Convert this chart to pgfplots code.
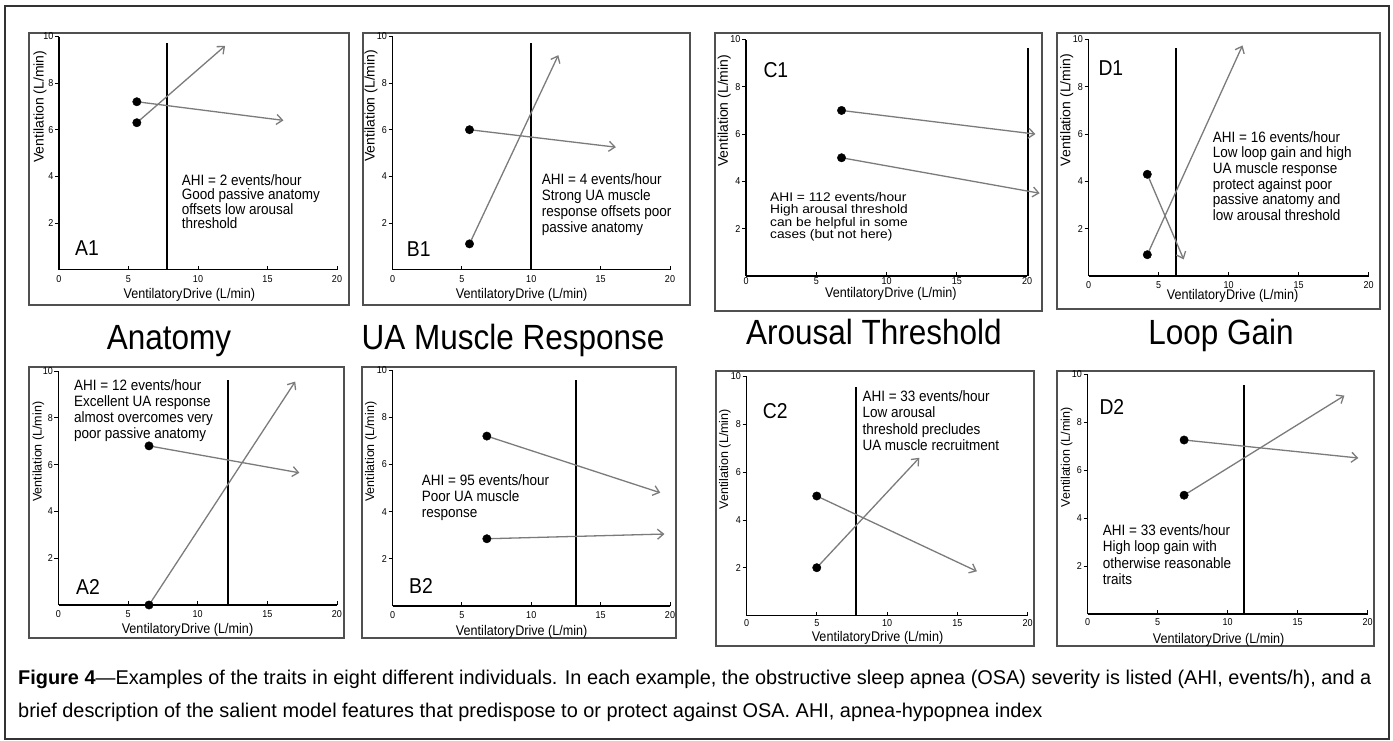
\documentclass[border=0pt]{standalone}
\usepackage{fontspec}
\setmainfont{Liberation Sans}
% slightly condensed faces for the panel text
\newfontfamily\nf[FakeStretch=0.9]{Liberation Sans}
\newfontfamily\nfw[FakeStretch=1.1]{Liberation Sans}
\usepackage{pgfplots}
\pgfplotsset{compat=1.18}
\usetikzlibrary{arrows.meta}

\definecolor{arrowgray}{HTML}{7B7B7B}
\definecolor{framegray}{HTML}{505050}

\pgfplotsset{
  trait/.style={
    scale only axis, clip=false, anchor=south west,
    xmin=0, xmax=20, ymin=0, ymax=10,
    axis x line=bottom, axis y line=left,
    axis line style={-, line width=1.1pt, black},
    xtick={0,5,10,15,20}, ytick={2,4,6,8,10},
    tick align=outside, major tick length=4pt,
    every tick/.style={black, line width=0.8pt},
    every x tick/.append style={yshift=4pt},
    /pgf/number format/assume math mode=true,
    ticklabel style={font=\nf\fontsize{10}{10}\selectfont},
    xticklabel style={inner sep=1.5pt},
    yticklabel style={inner sep=1.5pt},
  },
  vline/.style={black, line width=2pt},
  arr/.style={arrowgray, line width=1.3pt, -{Straight Barb[length=6pt,width=10pt]}},
  dot/.style={only marks, mark=*, mark size=4.2pt, black},
}

\begin{document}
\begin{tikzpicture}[x=1pt, y=-1pt]
\path[use as bounding box] (0,0) rectangle (1393,740);
\draw[black!80, line width=1.2pt] (5,6) rectangle (1389,739);

% panel frames
\draw[framegray, line width=1.1pt] (29,33) rectangle (349,305);
\draw[framegray, line width=1.1pt] (363,33) rectangle (690,305);
\draw[framegray, line width=1.1pt] (715,33) rectangle (1042,311);
\draw[framegray, line width=1.1pt] (1057,33) rectangle (1380,309);
\draw[framegray, line width=1.1pt] (29,367) rectangle (344,638);
\draw[framegray, line width=1.1pt] (362,367) rectangle (676,638);
\draw[framegray, line width=1.1pt] (716,371) rectangle (1034,646);
\draw[framegray, line width=1.1pt] (1057,371) rectangle (1374,646);

% A1 -- anatomy
\begin{axis}[trait, at={(59pt,-269.5pt)}, width=278pt, height=233pt]
  \addplot[vline] coordinates {(7.8,0) (7.8,9.7)};
  \addplot[arr] coordinates {(5.6,6.3) (11.95,9.6)};
  \addplot[arr] coordinates {(5.6,7.2) (16.15,6.4)};
  \addplot[dot] coordinates {(5.6,6.3) (5.6,7.2)};
\end{axis}
% B1 -- UA muscle response
\begin{axis}[trait, at={(392.5pt,-269.5pt)}, width=277.5pt, height=233pt]
  \addplot[vline] coordinates {(10.0,0) (10.0,9.7)};
  \addplot[arr] coordinates {(5.55,1.1) (11.95,9.2)};
  \addplot[arr] coordinates {(5.55,6.0) (16.1,5.25)};
  \addplot[dot] coordinates {(5.55,1.1) (5.55,6.0)};
\end{axis}
% C1 -- arousal threshold
\begin{axis}[trait, at={(746pt,-276pt)}, width=281pt, height=236.5pt,
             xticklabel style={yshift=4pt}]
  \addplot[vline] coordinates {(20.1,0) (20.1,9.63)};
  \addplot[arr] coordinates {(6.8,7.0) (20.6,6.0)};
  \addplot[arr] coordinates {(6.8,5.0) (20.9,3.5)};
  \addplot[dot] coordinates {(6.8,7.0) (6.8,5.0)};
\end{axis}
% D1 -- loop gain
\begin{axis}[trait, at={(1088.5pt,-276pt)}, width=280pt, height=236.5pt]
  \addplot[vline] coordinates {(6.25,0) (6.25,9.63)};
  \addplot[arr] coordinates {(4.2,4.3) (6.8,0.7)};
  \addplot[arr] coordinates {(4.2,0.9) (11.0,9.75)};
  \addplot[dot] coordinates {(4.2,4.3) (4.2,0.9)};
\end{axis}
% A2
\begin{axis}[trait, at={(58.5pt,-605pt)}, width=278.5pt, height=234pt]
  \addplot[vline] coordinates {(12.2,0) (12.2,9.6)};
  \addplot[arr] coordinates {(6.5,0) (17.0,9.55)};
  \addplot[arr] coordinates {(6.5,6.8) (17.3,5.65)};
  \addplot[dot] coordinates {(6.5,0) (6.5,6.8)};
\end{axis}
% B2
\begin{axis}[trait, at={(392.5pt,-606pt)}, width=277.5pt, height=236pt]
  \addplot[vline] coordinates {(13.2,0) (13.2,9.58)};
  \addplot[arr] coordinates {(6.8,7.2) (19.3,4.8)};
  \addplot[arr] coordinates {(6.8,2.85) (19.6,3.05)};
  \addplot[dot] coordinates {(6.8,7.2) (6.8,2.85)};
\end{axis}
% C2
\begin{axis}[trait, at={(746.5pt,-615.5pt)}, width=281pt, height=239pt,
             xticklabel style={yshift=1.5pt}]
  \addplot[vline] coordinates {(7.8,0) (7.8,9.55)};
  \addplot[arr] coordinates {(5.0,5.0) (16.4,1.85)};
  \addplot[arr] coordinates {(5.0,2.0) (12.3,6.6)};
  \addplot[dot] coordinates {(5.0,5.0) (5.0,2.0)};
\end{axis}
% D2
\begin{axis}[trait, at={(1087.5pt,-614pt)}, width=280pt, height=240pt,
             xticklabel style={yshift=1.5pt}]
  \addplot[vline] coordinates {(11.2,0) (11.2,9.55)};
  \addplot[arr] coordinates {(6.9,7.25) (19.35,6.5)};
  \addplot[arr] coordinates {(6.9,4.95) (18.35,9.1)};
  \addplot[dot] coordinates {(6.9,7.25) (6.9,4.95)};
\end{axis}

% axis titles
\tikzset{
  xl/.style={font=\nf\fontsize{14}{14}\selectfont, inner sep=0pt},
  yl1/.style={font=\fontsize{14}{14}\selectfont, rotate=90, inner sep=0pt},
  yl2/.style={font=\fontsize{12.5}{12.5}\selectfont, rotate=90, inner sep=0pt},
  pl/.style={font=\nf\fontsize{21.5}{21.5}\selectfont, anchor=west, inner sep=0pt},
  note/.style={anchor=north west, align=left, inner sep=0pt},
  ttl/.style={font=\nf\fontsize{35}{35}\selectfont, anchor=base, inner sep=0pt},
}
\newcommand\xlab{Ventilatory\hspace{0.5pt}Drive (L/min)}
\newcommand\ylab{Ventilation (L/min)}
\node[xl] at (189.3,295) {\xlab};
\node[xl] at (521.7,295) {\xlab};
\node[xl] at (890.8,294) {\xlab};
\node[xl] at (1232.5,295.5) {\xlab};
\node[xl] at (187.5,630) {\xlab};
\node[xl] at (521.7,632.3) {\xlab};
\node[xl] at (877.5,638) {\xlab};
\node[xl] at (1218.7,639.5) {\xlab};
\node[yl1] at (40,106.7) {\ylab};
\node[yl1] at (371,105.8) {\ylab};
\node[yl1] at (724.3,110.8) {\ylab};
\node[yl1] at (1066.7,110) {\ylab};
\node[yl2] at (38.3,451.7) {\ylab};
\node[yl2] at (371,451.7) {\ylab};
\node[yl2] at (725,459.2) {\ylab};
\node[yl2] at (1066.7,457.5) {\ylab};

% panel letters
\node[pl] at (75,248) {A1};
\node[pl] at (406.7,249) {B1};
\node[pl] at (763.3,70) {C1};
\node[pl] at (1098.3,68.3) {D1};
\node[pl] at (76,586.7) {A2};
\node[pl] at (409,585.7) {B2};
\node[pl] at (762.7,410.7) {C2};
\node[pl] at (1099.3,407.3) {D2};

% notes
\node[note, font=\nf\fontsize{15}{14.5}\selectfont] at (181.7,174.4)
  {AHI = 2 events/hour\\Good passive anatomy\\offsets low arousal\\threshold};
\node[note, font=\nf\fontsize{15}{16}\selectfont] at (541.7,173.4)
  {AHI = 4 events/hour\\Strong UA muscle\\response offsets poor\\passive anatomy};
\node[note, font=\nfw\fontsize{12.5}{12.4}\selectfont] at (770,192)
  {AHI = 112 events/hour\\High arousal threshold\\can be helpful in some\\cases (but not here)};
\node[note, font=\nf\fontsize{15}{15.7}\selectfont] at (1212.7,131.1)
  {AHI = 16 events/hour\\Low loop gain and high\\UA muscle response\\protect against poor\\passive anatomy and\\low arousal threshold};
\node[note, font=\nf\fontsize{15}{16}\selectfont] at (74,379.4)
  {AHI = 12 events/hour\\Excellent UA response\\almost overcomes very\\poor passive anatomy};
\node[note, font=\nf\fontsize{15}{15.8}\selectfont] at (421.7,474.4)
  {AHI = 95 events/hour\\Poor UA muscle\\response};
\node[note, font=\nf\fontsize{15}{16.3}\selectfont] at (862.3,390.4)
  {AHI = 33 events/hour\\Low arousal\\threshold precludes\\UA muscle recruitment};
\node[note, font=\nf\fontsize{15}{16.3}\selectfont] at (1102.7,524.4)
  {AHI = 33 events/hour\\High loop gain with\\otherwise reasonable\\traits};

% column titles
\node[ttl] at (169,349) {Anatomy};
\node[ttl] at (513,349) {UA Muscle Response};
\node[ttl] at (874,344) {Arousal Threshold};
\node[ttl] at (1221,344) {Loop Gain};

% caption
\node[anchor=base west, align=left, inner sep=0pt,
      font=\fontsize{19.9}{33}\selectfont] at (18,717.3)
  {\textbf{Figure 4}—Examples of the traits in eight different individuals. In each example, the obstructive sleep apnea (OSA) severity is listed (AHI, events/h), and a\\
   brief description of the salient model features that predispose to or protect against OSA. AHI, apnea-hypopnea index};
\end{tikzpicture}
\end{document}
